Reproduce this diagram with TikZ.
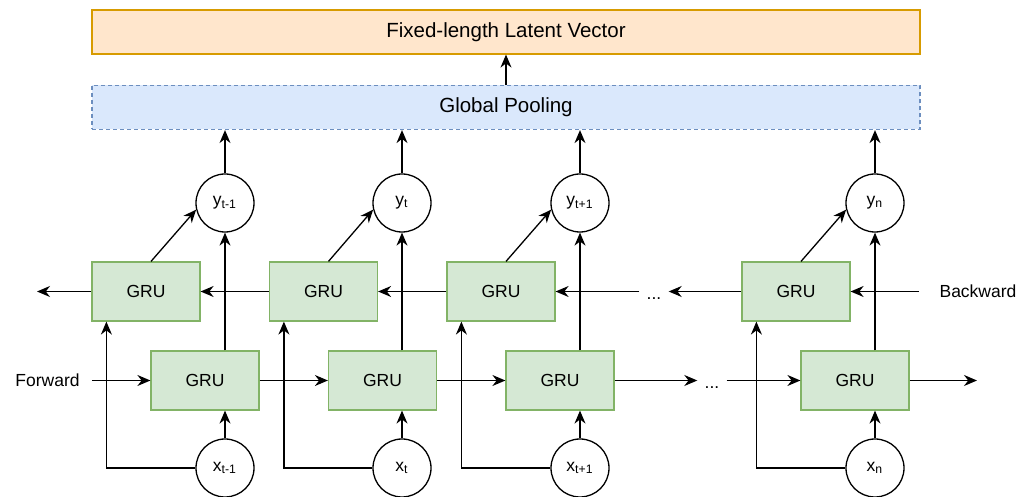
\documentclass[tikz,border=0pt]{standalone}
\usepackage{fontspec}
\setmainfont{Liberation Sans}
\usetikzlibrary{arrows.meta}

\definecolor{gruFill}{HTML}{D5E8D4}
\definecolor{gruLine}{HTML}{82B366}
\definecolor{vecFill}{HTML}{FFE6CC}
\definecolor{vecLine}{HTML}{D79B00}
\definecolor{poolFill}{HTML}{DAE8FC}
\definecolor{poolLine}{HTML}{6C8EBF}

\tikzset{
  gru/.style={draw=gruLine, fill=gruFill, line width=0.6pt, minimum width=54pt,
    minimum height=29.5pt, font=\fontsize{8.75}{10}\selectfont},
  io/.style={draw, circle, line width=0.65pt, minimum size=29pt, inner sep=0pt,
    font=\fontsize{8.75}{10}\selectfont},
  wide/.style={minimum width=414pt, minimum height=22pt, line width=0.6pt,
    font=\fontsize{10.25}{12}\selectfont},
  arr/.style={->, line width=0.65pt},
  lbl/.style={inner sep=0pt, font=\fontsize{8.75}{10}\selectfont},
  gap/.style={inner xsep=3.5pt, inner ysep=0pt, text height=8pt, text depth=0pt,
    font=\fontsize{8.75}{10}\selectfont}
}

\begin{document}
\begin{tikzpicture}[x=0.5pt,y=-0.5pt,>={Stealth[length=6.5pt,width=5.5pt]}]
\useasboundingbox (0,0) rectangle (1030,497);

% top
\node[wide, draw=vecLine, fill=vecFill] (vec) at (506,32) {Fixed-length Latent Vector};
\node[wide, draw=poolLine, fill=poolFill, dash pattern=on 2pt off 1.5pt] (pool) at (506,107.5) {Global Pooling};
\draw[arr] (pool.north) -- (vec.south);

% outputs
\node[io] (y1) at (225,203) {y\textsubscript{t-1}};
\node[io] (y2) at (402,203) {y\textsubscript{t}};
\node[io] (y3) at (580,203) {y\textsubscript{t+1}};
\node[io] (y4) at (875,203) {y\textsubscript{n}};

% backward layer
\node[gru] (b1) at (146,291.5) {GRU};
\node[gru] (b2) at (323.5,291.5) {GRU};
\node[gru] (b3) at (501,291.5) {GRU};
\node[gru] (b4) at (796,291.5) {GRU};

% forward layer
\node[gru] (f1) at (205,380.5) {GRU};
\node[gru] (f2) at (382.5,380.5) {GRU};
\node[gru] (f3) at (560,380.5) {GRU};
\node[gru] (f4) at (855,380.5) {GRU};

% inputs
\node[io] (x1) at (225,468) {x\textsubscript{t-1}};
\node[io] (x2) at (402,468) {x\textsubscript{t}};
\node[io] (x3) at (580,468) {x\textsubscript{t+1}};
\node[io] (x4) at (875,468) {x\textsubscript{n}};

\node[lbl] (fwd) at (47.5,380.5) {Forward};
\node[lbl] (bwd) at (978,291.5) {Backward};
\node[gap] (bdots) at (654,291.5) {...};
\node[gap] (fdots) at (712,380.5) {...};
\coordinate (bout) at (37,291.5);
\coordinate (fout) at (977,380.5);

% columns
\draw[arr] (x1) -- (x1 |- f1.south);
\draw[arr] (x2) -- (x2 |- f2.south);
\draw[arr] (x3) -- (x3 |- f3.south);
\draw[arr] (x4) -- (x4 |- f4.south);
\draw[arr] (x1.west) -| ([xshift=7.5pt]b1.south west);
\draw[arr] (x2.west) -| ([xshift=7.5pt]b2.south west);
\draw[arr] (x3.west) -| ([xshift=7.5pt]b3.south west);
\draw[arr] (x4.west) -| ([xshift=7.5pt]b4.south west);
\draw[arr] (y1 |- f1.north) -- (y1);
\draw[arr] (y2 |- f2.north) -- (y2);
\draw[arr] (y3 |- f3.north) -- (y3);
\draw[arr] (y4 |- f4.north) -- (y4);
\draw[arr] ([xshift=2.5pt]b1.north) -- (y1.193);
\draw[arr] ([xshift=2.5pt]b2.north) -- (y2.193);
\draw[arr] ([xshift=2.5pt]b3.north) -- (y3.193);
\draw[arr] ([xshift=2.5pt]b4.north) -- (y4.193);
\draw[arr] (y1) -- (y1 |- pool.south);
\draw[arr] (y2) -- (y2 |- pool.south);
\draw[arr] (y3) -- (y3 |- pool.south);
\draw[arr] (y4) -- (y4 |- pool.south);

% backward chain
\draw[arr, shorten <=10pt] (bwd.west) -- (b4.east);
\draw[arr] (b4.west) -- (bdots.east);
\draw[arr] (bdots.west) -- (b3.east);
\draw[arr] (b3.west) -- (b2.east);
\draw[arr] (b2.west) -- (b1.east);
\draw[arr] (b1.west) -- (bout);

% forward chain
\draw[arr, shorten <=6pt] (fwd.east) -- (f1.west);
\draw[arr] (f1.east) -- (f2.west);
\draw[arr] (f2.east) -- (f3.west);
\draw[arr] (f3.east) -- (fdots.west);
\draw[arr] (fdots.east) -- (f4.west);
\draw[arr] (f4.east) -- (fout);
\end{tikzpicture}
\end{document}
